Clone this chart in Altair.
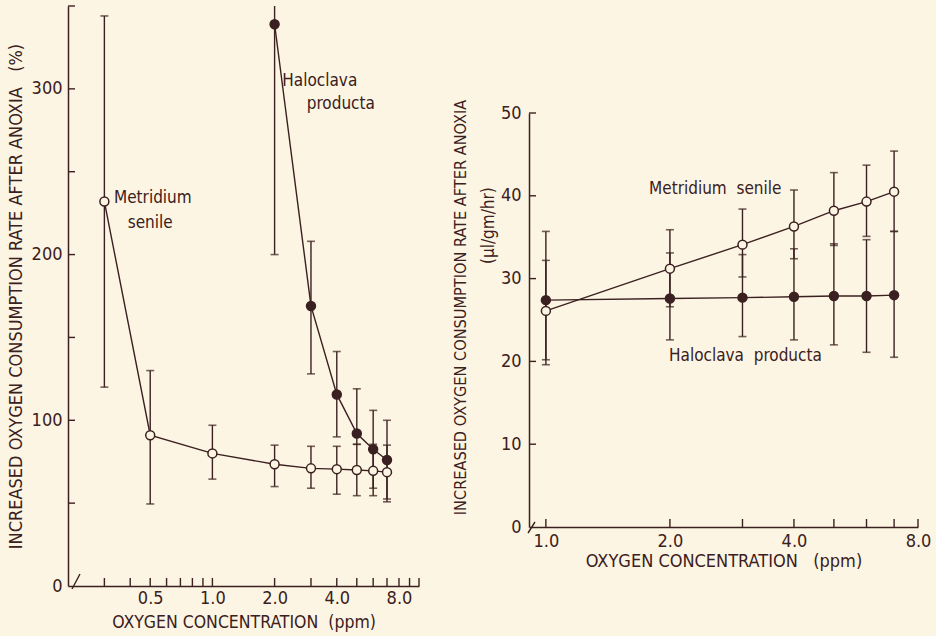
import altair as alt
import pandas as pd

INK = "#3a2020"
BG = "#fdf5e3"
FONT = "Liberation Sans Narrow, DejaVu Sans Condensed, sans-serif"
NB = "\u00a0"

# ---------------- left panel data (percent increase) ----------------
L_MS_X = [0.3, 0.5, 1.0, 2.0, 3.0, 4.0, 5.0, 6.0, 7.0]
L_MS_Y = [232, 91, 80, 73.5, 71, 70.5, 70, 69.5, 68.7]
L_MS_LO = [120, 49.5, 64.5, 60, 59, 55.4, 54.5, 54.5, 50.8]
L_MS_HI = [344, 130, 97, 85, 84.3, 84.3, 85.5, 85.5, 85]

L_HP_X = [2.0, 3.0, 4.0, 5.0, 6.0, 7.0]
L_HP_Y = [339, 169, 115.6, 92, 82.5, 76]
L_HP_LO = [200, 128, 90, 85.5, 59, 52.5]
L_HP_HI = [478, 208, 141.5, 119, 106, 100]

L_XTICKS = [0.3, 0.4, 0.5, 0.6, 0.7, 0.8, 0.9, 1, 2, 3, 4, 5, 6, 7, 8, 9, 10]
L_XLABELS = [0.5, 1, 2, 4, 8]
L_YTICKS = [50, 100, 150, 200, 250, 300, 350]
L_YLABELS = [0, 100, 200, 300]

L_TEXT = ["Metridium", "senile", "Haloclava", "producta"]
L_TEXT_X = [0.334, 0.5, 2.18, 2.86]
L_TEXT_Y = [234, 219, 305, 291]
L_TEXT_ALIGN = ["left", "center", "left", "left"]

# ---------------- right panel data (µl/gm/hr) ----------------
R_X = [1.0, 2.0, 3.0, 4.0, 5.0, 6.0, 7.0]
R_MS_Y = [26.1, 31.2, 34.1, 36.3, 38.2, 39.3, 40.5]
R_MS_LO = [20.2, 26.6, 30.2, 32.4, 34.0, 35.1, 35.7]
R_MS_HI = [32.2, 35.9, 38.4, 40.7, 42.8, 43.7, 45.4]
R_HP_Y = [27.4, 27.6, 27.7, 27.8, 27.9, 27.9, 28.0]
R_HP_LO = [19.6, 22.6, 23.0, 22.6, 22.0, 21.1, 20.5]
R_HP_HI = [35.7, 33.1, 32.9, 33.6, 34.2, 34.7, 35.7]

R_XTICKS = [1, 2, 3, 4, 5, 6, 7, 8]
R_XLABELS = [1, 2, 4, 8]
R_YTICKS = [10, 20, 30, 40, 50]
R_YLABELS = [0, 10, 20, 30, 40, 50]

R_TEXT = ["Metridium" + NB + NB + "senile", "Haloclava" + NB + NB + "producta"]
R_TEXT_X = [1.78, 1.99]
R_TEXT_Y = [40.8, 20.6]

L_X_TITLE = "OXYGEN" + NB + "CONCENTRATION" + NB * 2 + "(ppm)"
R_X_TITLE = "OXYGEN" + NB + "CONCENTRATION" + NB * 3 + "(ppm)"
L_Y_TITLE = "INCREASED OXYGEN CONSUMPTION RATE AFTER ANOXIA" + NB * 3 + "(%)"
R_Y_TITLE = "INCREASED OXYGEN CONSUMPTION RATE AFTER ANOXIA"
R_UNITS = "(µl/gm/hr)"


def series_df(xs, ys, los, his):
    return pd.DataFrame({"x": xs, "y": ys, "lo": los, "hi": his})


def panel(series, xs, ys, xax, yax, W, H, texts, slash):
    X = lambda f="x": alt.X(f"{f}:Q", scale=xs, axis=xax)
    Y = lambda f="y": alt.Y(f"{f}:Q", scale=ys, axis=yax)
    layers = []
    # error bars
    for df, filled in series:
        base = alt.Chart(df)
        layers.append(base.mark_rule(color=INK, strokeWidth=1.4, clip=True).encode(
            x=X(), y=Y("lo"), y2="hi:Q"))
        for f in ["lo", "hi"]:
            layers.append(base.mark_tick(color=INK, orient="horizontal", size=8,
                                         thickness=1.6, clip=True).encode(x=X(), y=Y(f)))
    # connecting lines
    for df, filled in series:
        layers.append(alt.Chart(df).mark_line(color=INK, strokeWidth=1.4).encode(
            x=X(), y=Y(), order="x:Q"))
    # points
    for df, filled in series:
        layers.append(alt.Chart(df).mark_circle(
            size=80, opacity=1, fill=INK if filled else BG, stroke=INK,
            strokeWidth=1.5).encode(x=X(), y=Y()))
    # inward axis ticks
    xt, yt = texts["xticks"], texts["yticks"]
    layers.append(alt.Chart(pd.DataFrame({"x": xt})).mark_rule(color=INK, strokeWidth=1.4).encode(
        x=X(), y=alt.value(H), y2=alt.value(H - 8)))
    layers.append(alt.Chart(pd.DataFrame({"y": yt})).mark_rule(color=INK, strokeWidth=1.4).encode(
        y=Y(), x=alt.value(0), x2=alt.value(7)))
    # axis break slash
    layers.append(alt.Chart(pd.DataFrame({"d": [0]})).mark_rule(color=INK, strokeWidth=1.4).encode(
        x=alt.value(slash[0]), x2=alt.value(slash[1]),
        y=alt.value(slash[2]), y2=alt.value(slash[3])))
    # annotations
    tdf = texts["df"]
    for al in tdf["align"].unique():
        layers.append(alt.Chart(tdf[tdf["align"] == al]).mark_text(
            align=al, baseline="middle", font=FONT, fontSize=17, color=INK).encode(
            x=X(), y=Y(), text="t:N"))
    if "extra" in texts:
        layers.append(texts["extra"])
    return alt.layer(*layers).properties(width=W, height=H)


# ---------- left ----------
LW, LH = 351, 580
lxs = alt.Scale(type="log", domain=[0.2, 10], nice=False)
lys = alt.Scale(domain=[0, 350], nice=False, zero=False)
lxax = alt.Axis(values=L_XLABELS, format=".1f", ticks=False, grid=False, labelFlush=False,
                title=L_X_TITLE, titleFontSize=17.5, labelPadding=3, titlePadding=6)
lyax = alt.Axis(values=L_YLABELS, ticks=False, grid=False, labelFlush=False,
                title=L_Y_TITLE, labelPadding=6, titlePadding=6)
ltxt = pd.DataFrame({"t": L_TEXT, "x": L_TEXT_X, "y": L_TEXT_Y, "align": L_TEXT_ALIGN})
left = panel(
    [(series_df(L_MS_X, L_MS_Y, L_MS_LO, L_MS_HI), False),
     (series_df(L_HP_X, L_HP_Y, L_HP_LO, L_HP_HI), True)],
    lxs, lys, lxax, lyax, LW, LH,
    {"xticks": L_XTICKS, "yticks": L_YTICKS, "df": ltxt},
    (4, 12, LH + 3, LH - 12))

# ---------- right ----------
RW, RH = 389, 414
rxs = alt.Scale(type="log", domain=[0.91, 8], nice=False)
rys = alt.Scale(domain=[0, 50], nice=False, zero=False)
rxax = alt.Axis(values=R_XLABELS, format=".1f", ticks=False, grid=False, labelFlush=False,
                title=R_X_TITLE, labelPadding=5, titlePadding=2)
ryax = alt.Axis(values=R_YLABELS, ticks=False, grid=False, labelFlush=False,
                title=R_Y_TITLE, titleFontSize=16.2, titleY=194,
                labelPadding=8, titlePadding=32)
rtxt = pd.DataFrame({"t": R_TEXT, "x": R_TEXT_X, "y": R_TEXT_Y, "align": ["left", "left"]})
units = alt.Chart(pd.DataFrame({"t": [R_UNITS], "y": [36.4]})).mark_text(
    angle=270, align="center", baseline="middle", font=FONT, fontSize=17, color=INK).encode(
    x=alt.value(-40), y=alt.Y("y:Q", scale=rys, axis=ryax), text="t:N")
right = panel(
    [(series_df(R_X, R_MS_Y, R_MS_LO, R_MS_HI), False),
     (series_df(R_X, R_HP_Y, R_HP_LO, R_HP_HI), True)],
    rxs, rys, rxax, ryax, RW, RH,
    {"xticks": R_XTICKS, "yticks": R_YTICKS, "df": rtxt, "extra": units},
    (-1, 6, RH + 6, RH - 5))

spacer = alt.Chart(pd.DataFrame({"d": [0]})).mark_rule(opacity=0).encode(
    x=alt.value(0), y=alt.value(0), y2=alt.value(1)).properties(width=1, height=93)

chart = alt.hconcat(left, alt.vconcat(spacer, right, spacing=0), spacing=32).properties(
    padding={"left": 7, "top": 5, "right": 5, "bottom": 5}
).configure(background=BG).configure_view(stroke=None).configure_axis(
    domainColor=INK, domainWidth=1.5, labelColor=INK, titleColor=INK,
    labelFont=FONT, titleFont=FONT, labelFontSize=18, titleFontSize=18,
    titleFontWeight="normal")

chart.save("out.html", embed_options={"renderer": "svg", "actions": False})
